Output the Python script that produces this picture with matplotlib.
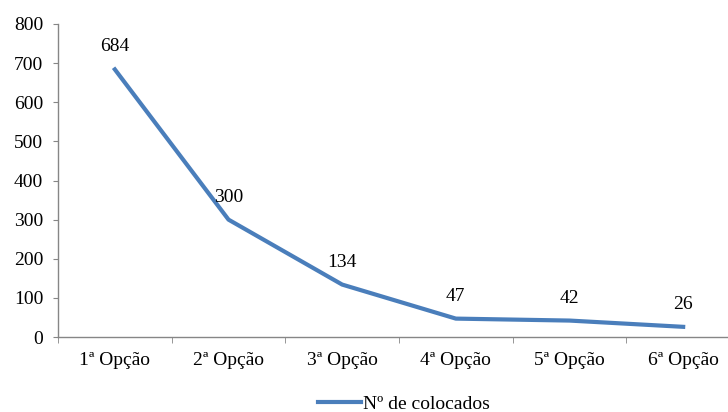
import matplotlib
matplotlib.use("Agg")
import matplotlib.pyplot as plt
import numpy as np

categories = ["1ª Opção", "2ª Opção", "3ª Opção", "4ª Opção", "5ª Opção", "6ª Opção"]
values = [684, 300, 134, 47, 42, 26]
series_name = "Nº de colocados"
yticks = [0, 100, 200, 300, 400, 500, 600, 700, 800]

plt.rcParams['font.family'] = ['Liberation Serif', 'DejaVu Serif']

W, H = 728, 412
FS = 14
fig = plt.figure(figsize=(W / 100, H / 100), dpi=100)
left, right, bottom, top = 58, 740, 337, 24
ax = fig.add_axes([left / W, 1 - bottom / H, (right - left) / W, (bottom - top) / H])

x = np.arange(len(categories))
color = "#4A7EBB"
line, = ax.plot(x, values, color=color, lw=3, solid_joinstyle='round', label=series_name)
for xi, v in zip(x, values):
    ax.annotate(str(v), (xi, v), xytext=(0, 10), textcoords='offset points',
                ha='center', va='bottom', fontsize=FS)

ax.set_xlim(-0.5, len(categories) - 0.5)
ax.set_ylim(0, 800)
ax.set_yticks(yticks)
ax.set_yticklabels([str(t) for t in yticks], fontsize=FS)
ax.set_xticks(x)
ax.set_xticklabels(categories, fontsize=FS)
ax.set_xticks(np.arange(-0.5, len(categories) + 0.5, 1), minor=True)
ax.tick_params(axis='x', which='major', length=0, pad=11)
ax.tick_params(axis='x', which='minor', length=4, color='#868686', direction='out')
ax.tick_params(axis='y', length=3.6, color='#868686', direction='out', pad=7)

for s in ['top', 'right']:
    ax.spines[s].set_visible(False)
for s in ['left', 'bottom']:
    ax.spines[s].set_color('#868686')
    ax.spines[s].set_linewidth(1)

leg = fig.legend(handles=[line], loc='center', bbox_to_anchor=(404 / W, 1 - 404 / H),
                 frameon=False, fontsize=FS, handlelength=2.2, handletextpad=0.1)

fig.savefig("out.png", dpi=100)
